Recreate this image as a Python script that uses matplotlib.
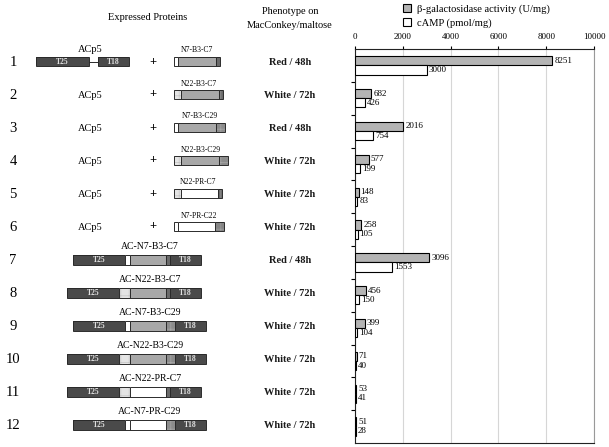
import matplotlib
matplotlib.use('Agg')
import matplotlib.pyplot as plt
from matplotlib.patches import Rectangle, Patch

plt.rcParams['font.family'] = ['Liberation Serif', 'DejaVu Serif']
plt.rcParams['hatch.linewidth'] = 0.5

# data
rows = list(range(1, 13))
partners = ['N7-B3-C7', 'N22-B3-C7', 'N7-B3-C29', 'N22-B3-C29', 'N22-PR-C7', 'N7-PR-C22']
fusions = ['N7-B3-C7', 'N22-B3-C7', 'N7-B3-C29', 'N22-B3-C29', 'N22-PR-C7', 'N7-PR-C29']
phenotype = ['Red / 48h', 'White / 72h', 'Red / 48h', 'White / 72h', 'White / 72h', 'White / 72h',
             'Red / 48h', 'White / 72h', 'White / 72h', 'White / 72h', 'White / 72h', 'White / 72h']
beta_gal = [8251, 682, 2016, 577, 148, 258, 3096, 456, 399, 71, 53, 51]
camp = [3000, 426, 754, 199, 83, 105, 1553, 150, 104, 40, 41, 28]

# domain styles: (face, hatch, hatch colour)
style = {
    'T25': ('#4a4a4a', None, None), 'T18': ('#4a4a4a', None, None),
    'N7': ('white', None, None), 'N22': ('#e4e4e4', '++', '#c4c4c4'),
    'B3': ('#a8a8a8', None, None), 'PR': ('white', None, None),
    'C7': ('#6a6a6a', '||', '#9a9a9a'), 'C29': ('#8c8c8c', '++', '#a8a8a8'),
    'C22': ('#858585', '++', '#a0a0a0'),
}
w_small = {'N7': 4, 'N22': 7, 'B3': 38, 'PR': 37, 'C7': 4, 'C29': 9, 'C22': 9}
w_fus = {'T25': 52, 'N7': 5, 'N22': 11, 'B3': 36, 'PR': 36, 'C7': 4, 'C29': 9, 'T18': 31}


def draw_segments(ax, names, x0, yc, h, widths):
    x = x0
    for n in names:
        w = widths[n]
        face, hatch, hcol = style[n]
        ax.add_patch(Rectangle((x, yc - h / 2), w, h, facecolor=face, edgecolor='none', lw=0))
        if hatch:
            ax.add_patch(Rectangle((x, yc - h / 2), w, h, facecolor='none', edgecolor=hcol,
                                   lw=0.01, hatch=hatch))
        ax.add_patch(Rectangle((x, yc - h / 2), w, h, facecolor='none', edgecolor='#2a2a2a',
                               lw=0.7))
        if n in ('T25', 'T18'):
            ax.text(x + w / 2, yc + 0.5, n, color='#e0e0e0', fontsize=5.5, fontweight='bold',
                    ha='center', va='center')
        x += w
    return x


fig = plt.figure(figsize=(6.09, 4.47), dpi=100)

# bar chart
ax = fig.add_axes([355 / 609, 1 - 443 / 447, (594 - 355) / 609, (443 - 49) / 447])
y = list(range(len(rows)))
bh = 0.28
ax.barh([i - bh / 2 for i in y], beta_gal, height=bh, color='#b4b4b4', edgecolor='black', lw=0.8,
        zorder=3)
ax.barh([i + bh / 2 for i in y], camp, height=bh, color='white', edgecolor='black', lw=0.8,
        zorder=3)
for i in y:
    ax.text(beta_gal[i] + 90, i - bh / 2, str(beta_gal[i]), fontsize=6.5, va='center', zorder=4)
    ax.text(camp[i] + 90, i + bh / 2, str(camp[i]), fontsize=6.5, va='center', zorder=4)
ax.set_xlim(0, 10000)
ax.set_ylim(len(rows) - 0.5, -0.5)
ax.xaxis.tick_top()
ax.set_xticks(range(0, 10001, 2000))
ax.tick_params(axis='x', labelsize=6.5, length=2, pad=4)
ax.set_yticks([i + 0.5 for i in y[:-1]])
ax.set_yticklabels([])
ax.tick_params(axis='y', length=3, width=0.8)
ax.grid(axis='x', color='#d6d6d6', lw=0.8, zorder=0)
for s in ('left', 'bottom', 'top'):
    ax.spines[s].set_color('#222222')
ax.spines['right'].set_color('#999999')

fig.legend(handles=[Patch(facecolor='#b4b4b4', edgecolor='black', lw=0.8),
                    Patch(facecolor='white', edgecolor='black', lw=0.8)],
           labels=['\u03b2-galactosidase activity (U/mg)', 'cAMP (pmol/mg)'],
           loc='upper left', bbox_to_anchor=(393 / 609, 1.012), frameon=False, fontsize=7.6,
           handlelength=0.8, handleheight=0.8, handletextpad=0.6, labelspacing=0.35)

# schematic panel in pixel coordinates
dx = fig.add_axes([0, 0, 1, 1], zorder=-1)
dx.set_xlim(0, 609)
dx.set_ylim(447, 0)
dx.axis('off')

dx.text(148, 17, 'Expressed Proteins', fontsize=7.5, ha='center', va='center')
dx.text(290, 12, 'Phenotype on', fontsize=7.5, ha='center', va='center')
dx.text(290, 26, 'MacConkey/maltose', fontsize=7.5, ha='center', va='center')

h = 9
for i, r in enumerate(rows):
    yc = 61.5 + 33 * i
    dx.text(13, yc + 1, str(r), fontsize=10.5, ha='center', va='center')
    dx.text(290, yc + 1, phenotype[i], fontsize=7.5, fontweight='bold', ha='center', va='center',
            color='#1a1a1a')
    if i < 6:
        if i == 0:
            draw_segments(dx, ['T25'], 36, yc, h, {'T25': 53})
            dx.plot([89, 98], [yc, yc], color='#2a2a2a', lw=0.7)
            draw_segments(dx, ['T18'], 98, yc, h, {'T18': 31})
            dx.text(90, yc - 12, 'ACp5', fontsize=7.5, ha='center', va='center')
        else:
            dx.text(90, yc + 1, 'ACp5', fontsize=7.5, ha='center', va='center')
        dx.text(153, yc, '+', fontsize=9, fontweight='bold', ha='center', va='center')
        names = partners[i].split('-')
        x1 = draw_segments(dx, names, 174, yc, h, w_small)
        dx.text((174 + x1) / 2, yc - 11, partners[i], fontsize=5.5, ha='center', va='center')
    else:
        names = fusions[i - 6].split('-')
        x0 = 130 - w_fus['T25'] - w_fus[names[0]]
        draw_segments(dx, ['T25'] + names + ['T18'], x0, yc, h + 1, w_fus)
        dx.text(150, yc - 13, 'AC-' + fusions[i - 6], fontsize=7, ha='center', va='center')

fig.savefig('out.png', dpi=100)
